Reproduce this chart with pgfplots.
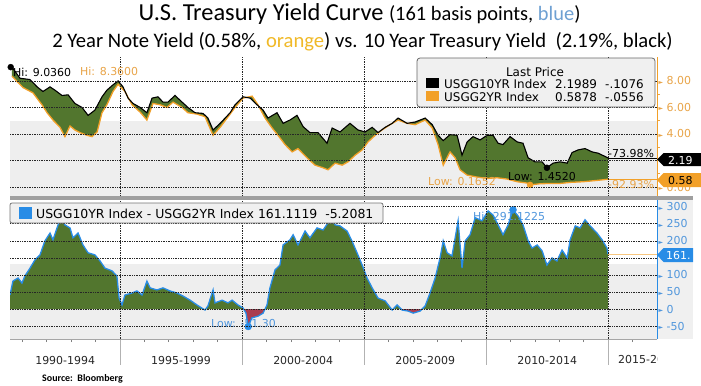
\documentclass[border=0pt]{standalone}
\usepackage{pgfplots}
\pgfplotsset{compat=1.18}
\usepackage{pgfplotstable}
\usepgfplotslibrary{fillbetween}
\usepackage{fontspec}
\setmainfont{Carlito}
\newfontfamily\bb{DejaVu Sans}
\newcommand\bbf{\bb\fontsize{11}{13}\selectfont}
\newcommand\bbl{\bb\fontsize{12}{14}\selectfont}
\newcommand\tri{{\fontsize{6}{6}\selectfont\raisebox{0.6bp}{►}}}
\definecolor{greenF}{RGB}{82,118,46}
\definecolor{orangeL}{RGB}{242,160,40}
\definecolor{orangeT}{RGB}{232,164,72}
\definecolor{blueL}{RGB}{40,140,230}
\definecolor{blueT}{RGB}{80,150,220}
\definecolor{redF}{RGB}{170,60,80}
\definecolor{bandgray}{RGB}{238,238,238}
\definecolor{legendgray}{RGB}{240,240,240}
\definecolor{titleblue}{RGB}{110,160,210}
\definecolor{titleorange}{RGB}{240,185,40}

\pgfplotstableread{
x y
1990.57 9.036
1990.90 8.2
1991.31 8.1
1991.60 7.55
1991.84 7.2
1992.13 7.55
1992.33 7.3
1992.62 6.9
1992.87 6.95
1993.15 6.3
1993.44 6.0
1993.69 5.4
1993.97 5.8
1994.26 6.8
1994.46 7.3
1994.71 7.7
1994.92 8.0
1995.12 7.55
1995.33 6.7
1995.53 6.3
1995.82 6.0
1996.10 5.6
1996.31 6.7
1996.55 6.8
1996.76 6.4
1996.96 6.4
1997.25 6.9
1997.54 6.4
1997.78 6.0
1998.07 5.6
1998.40 5.55
1998.60 5.2
1998.81 4.3
1999.10 4.8
1999.51 5.6
1999.71 6.2
2000.04 6.8
2000.33 6.7
2000.61 6.2
2000.86 5.8
2001.06 5.2
2001.43 5.6
2001.68 4.8
2001.96 5.05
2002.25 5.4
2002.50 4.55
2002.78 4.1
2003.11 4.1
2003.48 3.3
2003.69 4.45
2004.01 4.15
2004.42 4.8
2004.75 4.3
2005.04 4.15
2005.33 4.5
2005.57 4.1
2005.86 4.5
2006.15 4.8
2006.39 5.2
2006.76 4.8
2007.09 4.9
2007.50 5.2
2007.79 4.7
2008.03 3.9
2008.24 3.5
2008.52 3.95
2008.81 3.9
2009.01 2.4
2009.22 3.4
2009.46 3.8
2009.75 3.55
2010.04 3.9
2010.28 3.9
2010.49 3.3
2010.69 3.2
2010.98 3.8
2011.27 3.4
2011.51 3.3
2011.72 2.2
2012.00 1.9
2012.29 1.9
2012.49 1.452
2012.74 1.8
2013.03 1.9
2013.32 1.8
2013.52 2.6
2013.77 2.8
2014.05 2.9
2014.34 2.65
2014.59 2.55
2014.99 2.199
}\tenY

\pgfplotstableread{
x y
1990.57 8.36
1991.02 7.5
1991.43 7.1
1991.80 6.2
1992.01 5.6
1992.25 5.05
1992.54 4.5
1992.74 3.8
1992.95 4.6
1993.15 4.3
1993.36 4.1
1993.65 3.9
1993.85 3.8
1994.06 4.15
1994.26 5.6
1994.46 6.2
1994.71 7.2
1994.92 7.75
1995.20 7.2
1995.49 6.2
1995.82 5.65
1996.10 5.05
1996.35 6.3
1996.64 6.2
1996.92 6.0
1997.17 6.4
1997.54 6.0
1997.78 5.6
1998.15 5.5
1998.48 5.3
1998.81 3.9
1999.10 4.5
1999.51 5.5
1999.71 6.0
2000.04 6.7
2000.41 6.85
2000.65 6.2
2000.94 5.2
2001.23 4.45
2001.47 3.9
2001.76 3.2
2002.05 2.65
2002.29 2.9
2002.66 2.2
2002.99 1.65
2003.32 1.45
2003.52 1.3
2003.81 1.8
2004.10 1.65
2004.34 1.9
2004.63 2.4
2004.92 2.8
2005.16 3.4
2005.45 3.9
2005.73 4.3
2006.06 4.7
2006.39 5.05
2006.76 4.8
2007.09 4.7
2007.50 5.05
2007.79 4.45
2008.03 3.2
2008.24 1.65
2008.52 2.65
2008.73 2.2
2008.93 1.3
2009.22 0.9
2009.63 0.75
2010.04 0.65
2010.45 0.7
2010.86 0.6
2011.27 0.4
2011.68 0.3
2011.80 0.1652
2012.21 0.25
2012.62 0.27
2013.03 0.27
2013.44 0.35
2013.97 0.4
2014.54 0.5
2014.99 0.5878
}\twoY

\pgfplotstableread{
x y
1990.49 41
1990.61 82
1990.82 91
1990.98 76
1991.10 97
1991.31 120
1991.51 144
1991.72 159
1991.92 200
1992.13 223
1992.25 203
1992.46 247
1992.62 262
1992.74 247
1992.95 238
1993.07 209
1993.28 223
1993.48 188
1993.69 165
1993.97 159
1994.18 141
1994.38 120
1994.67 112
1994.87 97
1994.96 32
1995.08 12
1995.20 41
1995.49 47
1995.69 53
1995.90 41
1996.10 82
1996.23 62
1996.51 56
1996.76 62
1997.05 53
1997.33 47
1997.58 38
1997.87 26
1998.15 12
1998.48 -3
1998.60 9
1998.81 56
1998.89 18
1999.18 26
1999.42 18
1999.59 26
1999.83 12
2000.04 3
2000.16 -12
2000.25 -51.3
2000.40 -26
2000.65 -21
2000.86 -12
2001.02 12
2001.14 62
2001.35 115
2001.55 129
2001.68 188
2001.96 203
2002.09 218
2002.29 188
2002.58 229
2002.78 209
2003.07 238
2003.32 232
2003.52 253
2003.64 273
2003.81 247
2004.01 244
2004.30 229
2004.50 200
2004.71 165
2004.92 129
2005.12 91
2005.33 62
2005.57 32
2005.86 24
2006.15 -3
2006.35 12
2006.56 -3
2006.80 -6
2007.01 -12
2007.29 -6
2007.50 9
2007.70 47
2007.91 91
2008.11 150
2008.24 200
2008.40 165
2008.60 156
2008.73 209
2008.85 259
2009.01 120
2009.14 200
2009.34 218
2009.55 268
2009.83 259
2010.08 288
2010.28 276
2010.49 247
2010.69 218
2010.90 247
2011.10 291.1
2011.31 273
2011.51 247
2011.72 200
2011.88 179
2012.09 188
2012.29 171
2012.49 129
2012.70 150
2012.90 141
2013.11 173
2013.32 150
2013.44 203
2013.65 244
2013.85 238
2014.05 262
2014.26 244
2014.54 223
2014.75 203
2014.95 179
2014.99 161.1
}\spread

% negative parts of the spread (red areas)
\pgfplotstableread{
x y
2000.06 0
2000.16 -12
2000.25 -51.3
2000.40 -26
2000.65 -21
2000.86 -12
2000.94 0
}\negA
\pgfplotstableread{
x y
2006.50 0
2006.56 -3
2006.80 -6
2007.01 -12
2007.29 -6
2007.38 0
}\negB

\begin{document}
\begin{tikzpicture}[t/.style={inner sep=0pt,font=\bbf}]
\begin{scope}[x=1bp,y=1bp]
\path[use as bounding box] (0,0) rectangle (701,385);
\fill[legendgray] (657,46) rectangle (693,189);
\node[t, anchor=base west, text=blueT] at (473,165) {Hi: 291.1225};
\node[t, anchor=base west, text=blueT] at (211,58) {Low: -51.30};
\node[t, anchor=base west] at (13,309) {Hi: 9.0360};
\end{scope}

% ---------- top panel ----------
\begin{axis}[
  at={(10bp,188bp)}, anchor=south west, scale only axis,
  width=647bp, height=140bp,
  xmin=1990.49, xmax=2017, ymin=-0.75, ymax=9.8,
  axis line style={draw=none},
  axis background/.style={path picture={\fill[bandgray] (path picture bounding box.south west) rectangle ([yshift=76.3bp]path picture bounding box.south east);}},
  xtick=\empty,
  ytick={0,2,4,6,8},
  yticklabels={\tri\ 0.00,{},\tri\ 4.00,\tri\ 6.00,\tri\ 8.00},
  ytick pos=right, yticklabel pos=right,
  minor y tick num=1,
  major tick length=0pt, minor tick length=3bp,
  tick align=outside,
  ytick style={orangeT, line width=0.8bp},
  yticklabel style={font=\bbf, text=orangeT, anchor=west, xshift=-2bp},
]
\addplot[draw=none, name path=ten] table {\tenY};
\addplot[draw=none, name path=two] table {\twoY};
\addplot[greenF] fill between[of=ten and two];
\addplot[orangeL, line width=1.3bp] table {\twoY};
\addplot[black, line width=1.1bp] table {\tenY};
\addplot[black, line width=0.6bp] coordinates {(2014.99,2.199) (2017,2.199)};
\addplot[orangeL, line width=0.6bp] coordinates {(2014.99,0.5878) (2017,0.5878)};
\addplot[only marks, mark=*, black, mark size=3bp] coordinates {(1990.52,9.036) (2012.49,1.452)};
\addplot[only marks, mark=*, orangeL, mark size=3bp] coordinates {(2011.80,0.1652)};
\end{axis}

% ---------- bottom panel ----------
\begin{axis}[
  at={(10bp,46bp)}, anchor=south west, scale only axis,
  width=647bp, height=139bp,
  xmin=1990.49, xmax=2017, ymin=-88, ymax=320,
  axis line style={draw=none},
  axis background/.style={path picture={\fill[bandgray] (path picture bounding box.south west) rectangle ([yshift=75bp]path picture bounding box.south east);}},
  xtick={1992.75,1997.5,2002.5,2007.5,2012.5},
  xticklabels={1990-1994,1995-1999,2000-2004,2005-2009,2010-2014},
  minor xtick={1991,1992,1993,1994,1996,1997,1998,1999,2001,2002,2003,2004,2006,2007,2008,2009,2011,2012,2013,2014,2016},
  xtick pos=left,
  ytick={-50,0,50,100,150,200,250,300},
  yticklabels={\tri\ -50,\tri\ 0,\tri\ 50,\tri\ 100,{},\tri\ 200,\tri\ 250,\tri\ 300},
  ytick pos=right, yticklabel pos=right,
  minor y tick num=1,
  major tick length=0pt, minor tick length=3bp,
  tick align=outside,
  xtick style={gray, line width=0.8bp},
  ytick style={blueT, line width=0.8bp},
  yticklabel style={font=\bbf, text=blueT, anchor=west, xshift=-2bp},
  xticklabel style={font=\bbf, text=black!85, yshift=-14bp},
]
\addplot[draw=none, name path=sp] table {\spread};
\addplot[draw=none, name path=zero] coordinates {(1990.49,0) (2014.99,0)};
\addplot[greenF] fill between[of=sp and zero];
\addplot[fill=redF, draw=none] table {\negA};
\addplot[fill=redF, draw=none] table {\negB};
\addplot[blueL, line width=1.3bp] table {\spread};
\addplot[orangeL!60, line width=0.8bp] coordinates {(2014.99,161.11) (2017,161.11)};
\addplot[only marks, mark=*, blueL, mark size=3.5bp] coordinates {(2011.10,291.1) (2000.25,-51.3)};
\end{axis}

\begin{scope}[x=1bp,y=1bp]
% grid lines
\foreach \yy in {197.95,224.49,251.03,277.57,304.11} {\draw[densely dotted, black!85, line width=0.7bp] (10,\yy) -- (657,\yy);}
\foreach \yy in {58.95,75.98,93.02,110.05,127.09,144.12,161.16,178.19} {\draw[densely dotted, black!85, line width=0.7bp] (10,\yy) -- (657,\yy);}
\foreach \xx in {120.1,242.1,364.1,486.2,608.2} {
  \draw[densely dotted, black!85, line width=0.7bp] (\xx,188) -- (\xx,328);
  \draw[densely dotted, black!85, line width=0.7bp] (\xx,46) -- (\xx,185);
  \draw[gray!60, line width=0.8bp] (\xx,46) -- (\xx,20);}
% axis lines
\draw[orangeL, line width=1bp] (657,188) -- (657,328);
\draw[blueL, line width=1bp] (657,46) -- (657,185);
\draw[gray!70, line width=0.8bp] (10,46) -- (657,46);
\fill[gray!75] (10,185) rectangle (693,189);
% legend top
\draw[rounded corners=3bp, fill=legendgray, draw=black!60, line width=0.8bp] (417,278) rectangle (655,327);
\node[t, font=\bbl, anchor=base] at (535,309) {Last Price};
\fill[black] (426,297) rectangle (439,307);
\node[t, font=\bbl, anchor=base west] at (444,297) {USGG10YR Index};
\node[t, font=\bbl, anchor=base west] at (555,297) {2.1989};
\node[t, font=\bbl, anchor=base west] at (605,297) {-.1076};
\fill[orangeL] (426,284) rectangle (439,294);
\node[t, font=\bbl, anchor=base west] at (444,284) {USGG2YR Index};
\node[t, font=\bbl, anchor=base west] at (555,284) {0.5878};
\node[t, font=\bbl, anchor=base west] at (605,284) {-.0556};
% annotations top
\node[t, anchor=base west, text=orangeT] at (80,310) {Hi: 8.3600};
\node[t, anchor=base west] at (508,205) {Low: 1.4520};
\node[t, anchor=base west, text=orangeT] at (428,200) {Low: 0.1652};
\node[t, anchor=base west] at (608,228) {-73.98\%};
\node[t, anchor=base west, text=orangeT] at (608,197) {-92.93\%};
% tags
\fill[black] (657,225.5) -- (663.5,232) -- (701,232) -- (701,219) -- (663.5,219) -- cycle;
\node[t, anchor=base west, text=white] at (668,221) {2.19};
\fill[orangeL] (657,205) -- (663.5,212) -- (701,212) -- (701,198) -- (663.5,198) -- cycle;
\node[t, anchor=base west, text=black] at (668,201) {0.58};
\begin{scope}
\clip (650,100) rectangle (693,150);
\fill[blueL] (657,130) -- (663.5,137) -- (701,137) -- (701,123) -- (663.5,123) -- cycle;
\node[t, anchor=base west, text=white] at (666,126) {161.};
\end{scope}
% bottom legend bar
\draw[fill=legendgray, draw=black!55, rounded corners=2bp, line width=0.8bp] (10,162) rectangle (383,182);
\fill[blueL] (19,166) rectangle (32,178);
\node[t, font=\bb\fontsize{12.5}{14}\selectfont, anchor=base west] at (36,167) {USGG10YR Index - USGG2YR Index 161.1119\ \ -5.2081};
% last x label, clipped
\begin{scope}
\clip (600,0) rectangle (657,45);
\node[t, anchor=base west, text=black!85] at (618,22) {2015-2019};
\end{scope}
% titles
\node[inner sep=0pt, anchor=base] at (359.5,365) {\fontsize{24.5}{27}\selectfont U.S. Treasury Yield Curve \fontsize{20.5}{23}\selectfont(161 basis points, \textcolor{titleblue}{blue})};
\node[inner sep=0pt, anchor=base] at (362.5,338) {\fontsize{20.7}{23}\selectfont 2 Year Note Yield (0.58\%, \textcolor{titleorange}{orange}) vs. 10 Year Treasury Yield\ \ (2.19\%, black)};
\node[inner sep=0pt, anchor=base west] at (42,4) {\fontsize{10}{12}\selectfont\bfseries Source:\ \ Bloomberg};
\end{scope}
\end{tikzpicture}
\end{document}
